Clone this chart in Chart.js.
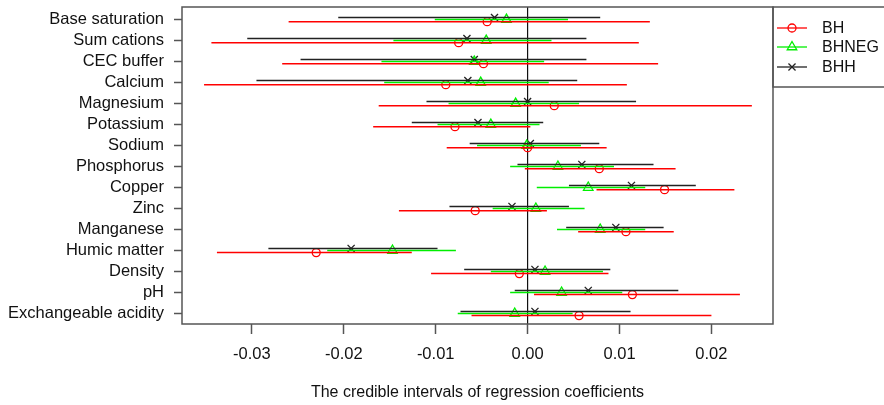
<!DOCTYPE html>
<html>
<head>
<meta charset="utf-8">
<script src="https://cdn.jsdelivr.net/npm/chart.js@4"></script>
<style>
  html, body { margin: 0; padding: 0; background: #fff; }
  #wrap { width: 884px; height: 405px; }
</style>
</head>
<body>
<div id="wrap"><canvas id="chart" width="884" height="405"></canvas></div>
<script>
// categories, top to bottom
const categories = ['Base saturation', 'Sum cations', 'CEC buffer', 'Calcium', 'Magnesium',
  'Potassium', 'Sodium', 'Phosphorus', 'Copper', 'Zinc', 'Manganese', 'Humic matter',
  'Density', 'pH', 'Exchangeable acidity'];

// BH (red circles)
const bhEst = [-0.0044, -0.0075, -0.0048, -0.0089, 0.0029, -0.0079, 0.0000, 0.0078, 0.0149, -0.0057, 0.0107, -0.0230, -0.0009, 0.0114, 0.0056];
const bhLo  = [-0.0260, -0.0344, -0.0267, -0.0352, -0.0162, -0.0168, -0.0088, -0.0003, 0.0075, -0.0140, 0.0055, -0.0338, -0.0105, 0.0007, -0.0061];
const bhHi  = [0.0133, 0.0121, 0.0142, 0.0108, 0.0244, 0.0003, 0.0086, 0.0161, 0.0225, 0.0021, 0.0159, -0.0126, 0.0088, 0.0231, 0.0200];

// BHNEG (green triangles)
const bhnegEst = [-0.0023, -0.0045, -0.0058, -0.0051, -0.0013, -0.0040, -0.0001, 0.0033, 0.0066, 0.0009, 0.0079, -0.0147, 0.0019, 0.0037, -0.0014];
const bhnegLo  = [-0.0101, -0.0146, -0.0159, -0.0156, -0.0086, -0.0098, -0.0055, -0.0019, 0.0010, -0.0038, 0.0032, -0.0218, -0.0040, -0.0019, -0.0076];
const bhnegHi  = [0.0044, 0.0026, 0.0018, 0.0023, 0.0056, 0.0013, 0.0058, 0.0094, 0.0128, 0.0062, 0.0128, -0.0078, 0.0082, 0.0103, 0.0049];

// BHH (black crosses)
const bhhEst = [-0.0036, -0.0066, -0.0058, -0.0065, 0.0000, -0.0054, 0.0003, 0.0059, 0.0113, -0.0017, 0.0096, -0.0192, 0.0008, 0.0066, 0.0008];
const bhhLo  = [-0.0206, -0.0305, -0.0247, -0.0295, -0.0110, -0.0126, -0.0063, -0.0011, 0.0045, -0.0085, 0.0042, -0.0282, -0.0069, -0.0014, -0.0073];
const bhhHi  = [0.0079, 0.0064, 0.0064, 0.0054, 0.0118, 0.0017, 0.0078, 0.0137, 0.0183, 0.0045, 0.0148, -0.0098, 0.0090, 0.0164, 0.0112];

const xTicks = [-0.03, -0.02, -0.01, 0.00, 0.01, 0.02];

const FONT = '"Liberation Sans", Arial, Helvetica, sans-serif';

const series = [
  { name: 'BH', color: '#ff0000', style: 'circle', radius: 4, shift: 0.1, est: bhEst, lo: bhLo, hi: bhHi },
  { name: 'BHNEG', color: '#00ee00', style: 'triangle', radius: 5.5, shift: 0, est: bhnegEst, lo: bhnegLo, hi: bhnegHi },
  { name: 'BHH', color: '#222222', style: 'crossRot', radius: 5, shift: -0.1, est: bhhEst, lo: bhhLo, hi: bhhHi }
];

const datasets = [];
series.forEach(s => {
  const seg = [];
  categories.forEach((c, i) => {
    seg.push({ x: s.lo[i], y: i + s.shift });
    seg.push({ x: s.hi[i], y: i + s.shift });
    seg.push({ x: null, y: null });
  });
  datasets.push({
    label: s.name + ' interval', data: seg, showLine: true, spanGaps: false,
    borderColor: s.color, borderWidth: 1.5, pointRadius: 0, pointHoverRadius: 0
  });
});
series.forEach(s => {
  datasets.push({
    label: s.name,
    data: categories.map((c, i) => ({ x: s.est[i], y: i + s.shift })),
    showLine: false, pointStyle: s.style, pointRadius: s.radius, pointHoverRadius: s.radius,
    pointBorderColor: s.color, pointBackgroundColor: 'rgba(0,0,0,0)', pointBorderWidth: 1.3
  });
});

// box, zero line and the legend box drawn to the right of the plot
const frame = {
  id: 'frame',
  beforeDatasetsDraw(chart) {
    const { ctx, chartArea: a, scales } = chart;
    ctx.save();
    const x0 = scales.x.getPixelForValue(0);
    ctx.strokeStyle = '#111';
    ctx.lineWidth = 1.2;
    ctx.beginPath();
    ctx.moveTo(x0, a.top);
    ctx.lineTo(x0, a.bottom);
    ctx.stroke();
    ctx.restore();
  },
  afterDraw(chart) {
    const { ctx, chartArea: a } = chart;
    ctx.save();
    ctx.strokeStyle = '#555';
    ctx.lineWidth = 1.5;
    ctx.strokeRect(a.left, a.top, a.right - a.left, a.bottom - a.top);
    // legend
    const lx = a.right, ly = a.top, lh = 80;
    ctx.strokeRect(lx, ly, chart.width - lx + 10, lh);
    ctx.font = '16px ' + FONT;
    ctx.textBaseline = 'middle';
    ctx.textAlign = 'left';
    const rows = [ly + 21, ly + 40, ly + 60];
    series.forEach((s, k) => {
      const y = rows[k];
      ctx.strokeStyle = s.color;
      ctx.lineWidth = 1.3;
      ctx.beginPath();
      ctx.moveTo(lx + 4, y);
      ctx.lineTo(lx + 34, y);
      ctx.stroke();
      ctx.fillStyle = 'rgba(0,0,0,0)';
      Chart.helpers.drawPoint(ctx, { pointStyle: s.style, radius: s.radius, rotation: 0, borderWidth: 1.3 }, lx + 19, y);
      ctx.fillStyle = '#111';
      ctx.fillText(s.name, lx + 49, y + 1);
    });
    ctx.restore();
  }
};

new Chart(document.getElementById('chart'), {
  type: 'scatter',
  data: { datasets },
  options: {
    responsive: false,
    animation: false,
    events: [],
    layout: { padding: { top: 7, right: 111, left: 0, bottom: 0 } },
    plugins: { legend: { display: false }, tooltip: { enabled: false } },
    scales: {
      x: {
        type: 'linear', min: -0.0376, max: 0.0267,
        afterBuildTicks: sc => { sc.ticks = xTicks.map(v => ({ value: v })); },
        afterFit: sc => { sc.height = 81; sc.paddingLeft = 0; sc.paddingRight = 0; },
        grid: { display: true, drawOnChartArea: false, tickLength: 10, tickColor: '#555', tickWidth: 1.5 },
        border: { display: false },
        ticks: {
          autoSkip: false, maxRotation: 0, padding: 11, color: '#111',
          font: { family: FONT, size: 16.5 },
          callback: v => v.toFixed(2)
        },
        title: {
          display: true, text: 'The credible intervals of regression coefficients',
          color: '#111', font: { family: FONT, size: 16 }, padding: { top: 4, bottom: 3 }
        }
      },
      y: {
        type: 'linear', reverse: true, min: -0.6, max: 14.5,
        afterBuildTicks: sc => { sc.ticks = categories.map((c, i) => ({ value: i })); },
        afterFit: sc => { sc.width = 182; sc.paddingTop = 0; sc.paddingBottom = 0; },
        grid: { display: true, drawOnChartArea: false, tickLength: 8, tickColor: '#555', tickWidth: 1.5 },
        border: { display: false },
        ticks: {
          autoSkip: false, padding: 10, color: '#111',
          font: { family: FONT, size: 16.5 },
          callback: v => categories[v]
        }
      }
    }
  },
  plugins: [frame]
});
</script>
</body>
</html>
